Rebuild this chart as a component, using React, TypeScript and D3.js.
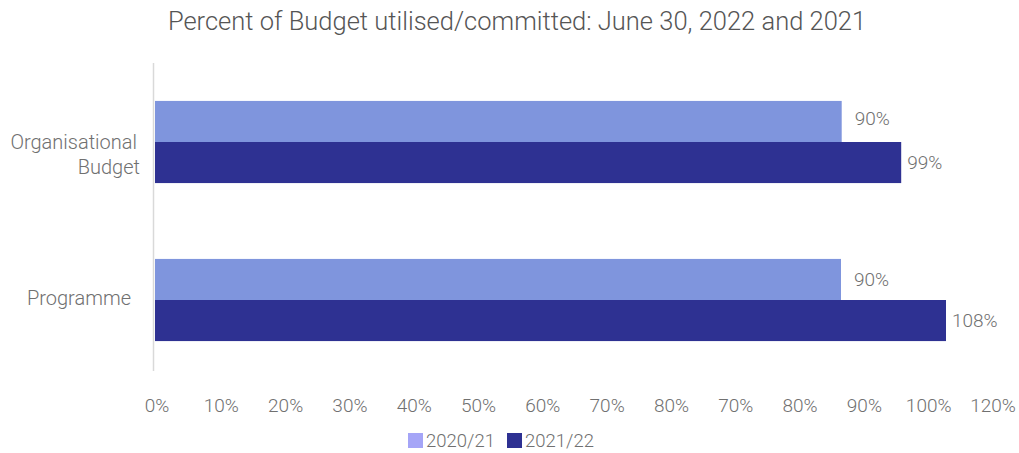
import React from "react";
import * as d3 from "d3";

const categories = ["Organisational\nBudget", "Programme"];
const seriesNames = ["2020/21", "2021/22"];
// bar lengths read against the axis (0..120 scale)
const values2020 = [98.1, 98.0];
const values2021 = [106.6, 113.0];
// value labels as printed on the chart
const labels2020 = ["90%", "90%"];
const labels2021 = ["99%", "108%"];
const tickLabels = ["0%", "10%", "20%", "30%", "40%", "50%", "60%", "70%", "80%", "70%", "80%", "90%", "100%", "120%"];

const W = 1019;
const H = 453;
const barColors = ["#7F95DD", "#2E3192"];
const legendColors = ["#A5A5F7", "#2E3192"];
const textColor = "#707070";
const font = "Roboto, 'Noto Sans', sans-serif";

export default function App() {
  const plotLeft = 155;
  const plotRight = 995;
  const x = d3.scaleLinear().domain([0, 120]).range([plotLeft, plotRight]);
  const y = d3.scaleBand<string>().domain(categories).range([63, 379]).paddingInner(0.48).paddingOuter(0.24);
  const inner = d3.scaleBand<string>().domain(seriesNames).range([0, y.bandwidth()]);
  const tickX = d3.scalePoint<number>().domain(d3.range(tickLabels.length)).range([157, 993]);
  const series = [values2020, values2021];
  const labels = [labels2020, labels2021];
  const labelGap = [13, 6];

  return (
    <svg width={W} height={H} style={{ position: "absolute", left: 0, top: 0, background: "#fff" }} fontFamily={font}>
      <text x={517} y={30} textAnchor="middle" fontSize={25.5} fill="#555555" fontWeight={300}>
        Percent of Budget utilised/committed: June 30, 2022 and 2021
      </text>
      <line x1={153.5} x2={153.5} y1={63} y2={371} stroke="#D9D9D9" strokeWidth={1.5} />
      {categories.map((c, ci) =>
        series.map((s, si) => {
          const by = (y(c) ?? 0) + (inner(seriesNames[si]) ?? 0);
          const bh = inner.bandwidth();
          return (
            <g key={`${ci}-${si}`}>
              <rect x={x(0)} y={by} width={x(s[ci]) - x(0)} height={bh} fill={barColors[si]} />
              <text
                x={x(s[ci]) + labelGap[si]}
                y={by + bh / 2 - (si === 0 && ci === 0 ? 3 : 0)}
                dy="0.35em"
                fontSize={19}
                fill={textColor}
                fontWeight={300}
              >
                {labels[si][ci]}
              </text>
            </g>
          );
        })
      )}
      {categories.map((c, ci) => {
        const lines = c.split("\n");
        const cy = (y(c) ?? 0) + y.bandwidth() / 2;
        const lh = 25;
        const y0 = lines.length > 1 ? cy : cy - 2;
        return (
          <text key={c} textAnchor="end" fontSize={20} fill={textColor} fontWeight={300}>
            {lines.map((l, li) => (
              <tspan key={li} x={lines.length > 1 ? 137 + li * 3 : 131} y={y0 + li * lh} dy="0.35em">
                {l}
              </tspan>
            ))}
          </text>
        );
      })}
      {tickLabels.map((t, i) => (
        <text key={i} x={tickX(i)} y={405} dy="0.35em" textAnchor="middle" fontSize={19} fill={textColor} fontWeight={300}>
          {t}
        </text>
      ))}
      {seriesNames.map((n, i) => {
        const lx = 408 + i * 99;
        return (
          <g key={n}>
            <rect x={lx} y={433} width={15} height={15} fill={legendColors[i]} />
            <text x={lx + 18} y={441} dy="0.35em" fontSize={18.5} fill={textColor} fontWeight={300}>
              {n}
            </text>
          </g>
        );
      })}
    </svg>
  );
}
